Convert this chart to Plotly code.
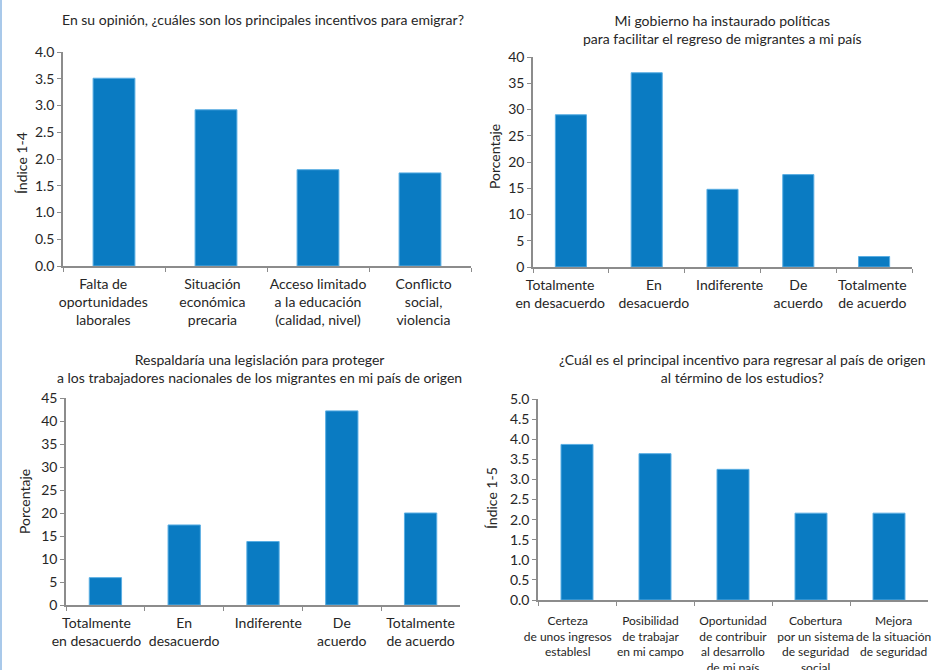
import plotly.graph_objects as go

W, H = 934, 670

# ---------------- data ----------------
cat1 = ["Falta de<br>oportunidades<br>laborales", "Situación<br>económica<br>precaria",
        "Acceso limitado<br>a la educación<br>(calidad, nivel)", "Conflicto<br>social,<br>violencia"]
val1 = [3.51, 2.92, 1.80, 1.74]

cat2 = ["Totalmente<br>en desacuerdo", "En<br>desacuerdo", "Indiferente", "De<br>acuerdo",
        "Totalmente<br>de acuerdo"]
val2 = [29.0, 37.0, 14.8, 17.6, 2.0]

cat3 = ["Totalmente<br>en desacuerdo", "En<br>desacuerdo", "Indiferente", "De<br>acuerdo",
        "Totalmente<br>de acuerdo"]
val3 = [5.95, 17.4, 13.8, 42.2, 20.0]

cat4 = ["Certeza<br>de unos ingresos<br>establesl", "Posibilidad<br>de trabajar<br>en mi campo",
        "Oportunidad<br>de contribuir<br>al desarrollo<br>de mi país",
        "Cobertura<br>por un sistema<br>de seguridad<br>social",
        "Mejora<br>de la situación<br>de seguridad"]
val4 = [3.87, 3.64, 3.25, 2.16, 2.16]

titles = [
    "En su opinión, ¿cuáles son los principales incentivos para emigrar?",
    "Mi gobierno ha instaurado políticas<br>para facilitar el regreso de migrantes a mi país",
    "Respaldaría una legislación para proteger<br>a los trabajadores nacionales de los migrantes en mi país de origen",
    "¿Cuál es el principal incentivo para regresar al país de origen<br>al término de los estudios?",
]
ytitles = ["Índice 1-4", "Porcentaje", "Porcentaje", "Índice 1-5"]

# ---------------- style ----------------
FONT = "Lato"
TXT = "#262626"
BAR = "#0a7bc2"
AX = "#8c8c8c"

def px(x):
    return x / W

def py(y):
    return 1 - y / H

# panel pixel boxes: (x0, x1, ytop, ybottom)
boxes = [(63, 471, 52, 266), (533, 912, 57, 267), (66, 460, 398, 605), (538, 928, 399, 600)]
ranges = [[0, 4], [0, 40], [0, 45], [0, 5]]
dticks = [0.5, 5, 5, 0.5]
tfmt = [".1f", "d", "d", ".1f"]
xfont = [14, 14, 14, 12]
# horizontal nudges (px) of category labels, as in the original (labels shifted to avoid overlap)
label_shift = [[-8, -3, 0, 3], [-8, 6, 5, 0, -2], [-7, 0, 4, 0, 0], [-7, -4, 0, 4, 3]]
NBSP_EM = 0.193  # width of a no-break space in Lato, in em


def nudge(label, shift, size):
    n = int(round(2 * abs(shift) / (NBSP_EM * size)))
    if n == 0:
        return label
    pad = "\u00a0" * n
    lines = label.split("<br>")
    if shift < 0:
        lines = [ln + pad for ln in lines]
    else:
        lines = [pad + ln for ln in lines]
    return "<br>".join(lines)


fig = go.Figure()
data = [(cat1, val1), (cat2, val2), (cat3, val3), (cat4, val4)]
for i, (c, v) in enumerate(data):
    sfx = "" if i == 0 else str(i + 1)
    fig.add_trace(go.Bar(x=c, y=v, marker=dict(color=BAR, line=dict(color="#5aaee3", width=1)),
                         xaxis="x" + sfx, yaxis="y" + sfx, showlegend=False, hoverinfo="x+y"))

layout = dict(width=W, height=H, margin=dict(l=0, r=0, t=0, b=0, autoexpand=False),
              paper_bgcolor="white", plot_bgcolor="white",
              font=dict(family=FONT, size=14, color=TXT), bargap=0.59, annotations=[], shapes=[])

for i in range(4):
    sfx = "" if i == 0 else str(i + 1)
    x0, x1, yt, yb = boxes[i]
    cats = data[i][0]
    layout["xaxis" + sfx] = dict(domain=[px(x0), px(x1)], anchor="y" + sfx, type="category",
                                 showline=True, linecolor=AX, linewidth=1.5, ticks="outside",
                                 tickson="boundaries", ticklen=4, tickcolor=AX, showgrid=False,
                                 tickangle=0, automargin=False, ticklabelstandoff=4,
                                 tickmode="array", tickvals=cats,
                                 ticktext=[nudge(c, s, xfont[i]) for c, s in zip(cats, label_shift[i])],
                                 tickfont=dict(size=xfont[i], color=TXT), fixedrange=True)
    layout["yaxis" + sfx] = dict(domain=[py(yb), py(yt)], anchor="x" + sfx, range=ranges[i],
                                 dtick=dticks[i], tickformat=tfmt[i], showline=True, linecolor=AX,
                                 linewidth=1.5, ticks="outside", ticklen=4, tickcolor=AX,
                                 showgrid=False, zeroline=False, tickfont=dict(size=14, color=TXT),
                                 automargin=False, fixedrange=True)
layout["xaxis4"]["ticklabelstandoff"] = 9

# titles
title_pos = [(263, 20), (722, 29), (259, 368), (742, 368)]
for (tx, ty), t in zip(title_pos, titles):
    layout["annotations"].append(dict(text=t, x=px(tx), y=py(ty), xref="paper", yref="paper",
                                      showarrow=False, xanchor="center", yanchor="middle",
                                      font=dict(size=14, color=TXT)))
# y-axis titles
yt_pos = [(21, 163), (494, 157), (24, 502), (491, 498)]
for (tx, ty), t in zip(yt_pos, ytitles):
    layout["annotations"].append(dict(text=t, x=px(tx), y=py(ty), xref="paper", yref="paper",
                                      showarrow=False, textangle=-90, xanchor="center",
                                      yanchor="middle", font=dict(size=14, color=TXT)))

# page border line at left
layout["shapes"].append(dict(type="line", xref="paper", yref="paper", x0=px(1), x1=px(1), y0=0, y1=1,
                             line=dict(color="#a9c9ea", width=2)))

fig.update_layout(**layout)
fig.write_html("out.html")
